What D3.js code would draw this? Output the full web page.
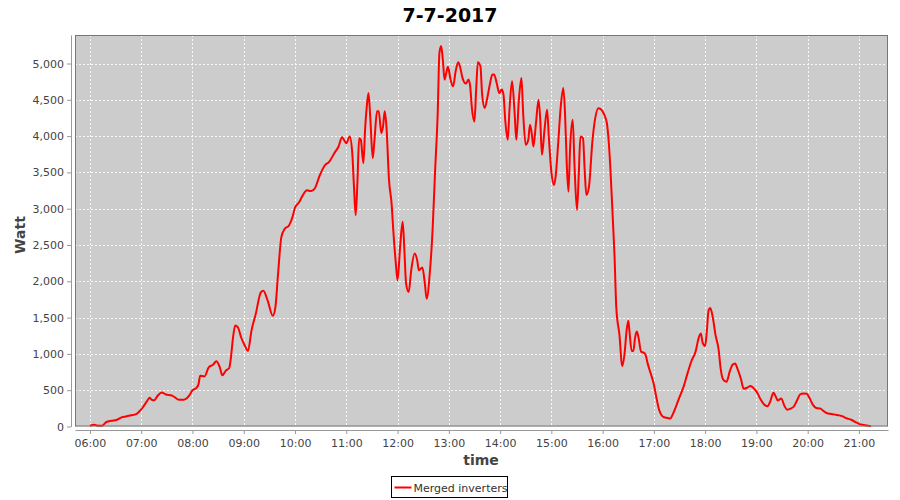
<!DOCTYPE html>
<html>
<head>
<meta charset="utf-8">
<script src="https://cdn.jsdelivr.net/npm/d3@7"></script>
<style>
  body { margin: 0; background: #fff; }
  .axis text { font-family: "DejaVu Sans", sans-serif; font-size: 11px; fill: #444; }
  .axis path, .axis line { stroke: #999; }
  .grid line { stroke: #fff; stroke-dasharray: 2,2; stroke-opacity: 0.85; }
</style>
</head>
<body>
<div class="chart"></div>
<script>
// data
var title = "7-7-2017";
var seriesName = "Merged inverters";
var xaxistext = "time";
var yaxistext = "Watt";

var times = ["06:00","06:05","06:08","06:14","06:19","06:25","06:31","06:37","06:43","06:48","06:54","06:58",
  "07:02","07:06","07:10","07:12","07:15","07:19","07:24","07:29","07:35","07:39","07:44","07:50","07:54","07:57",
  "08:00","08:04","08:07","08:09","08:14","08:19","08:24","08:28","08:32","08:35","08:39","08:43","08:45","08:47","08:50","08:53","08:57",
  "09:01","09:05","09:09","09:14","09:20","09:23","09:28","09:34","09:37","09:40","09:44","09:48","09:53","09:57",
  "10:00","10:05","10:09","10:14","10:19","10:23","10:29","10:35","10:40","10:46","10:51","10:55",
  "11:00","11:04","11:07","11:09","11:11","11:13","11:15","11:17","11:20","11:22","11:24","11:26","11:28","11:31","11:33","11:36","11:38","11:41","11:43","11:45","11:47","11:50","11:53","11:55","11:58",
  "12:00","12:03","12:06","12:08","12:10","12:13","12:16","12:20","12:23","12:25","12:29","12:32","12:34","12:38","12:41","12:44","12:47","12:49","12:51","12:53","12:55","12:57","12:59",
  "13:02","13:05","13:08","13:11","13:13","13:16","13:20","13:23","13:25","13:27","13:30","13:32","13:34","13:37","13:39","13:42","13:45","13:48","13:51","13:53","13:56","13:59",
  "14:02","14:04","14:06","14:09","14:11","14:14","14:17","14:19","14:22","14:25","14:27","14:30","14:33","14:35","14:37","14:39","14:42","14:45","14:47","14:49","14:52","14:55","14:57",
  "15:00","15:03","15:05","15:08","15:11","15:14","15:16","15:18","15:20","15:22","15:25","15:27","15:30","15:32","15:34","15:37","15:39","15:41","15:44","15:48","15:51","15:55","15:58",
  "16:02","16:05","16:07","16:09","16:12","16:14","16:16","16:20","16:22","16:23","16:26","16:28","16:30","16:31","16:34","16:36","16:38","16:40","16:42","16:45","16:48","16:50","16:53","16:56",
  "17:00","17:03","17:06","17:09","17:12","17:16","17:19","17:22","17:26","17:30","17:35","17:39","17:44","17:49","17:52","17:55","17:57",
  "18:00","18:02","18:04","18:06","18:09","18:12","18:16","18:18","18:21","18:25","18:29","18:32","18:35","18:38","18:42","18:45","18:49","18:53","18:57",
  "19:01","19:05","19:09","19:13","19:16","19:20","19:23","19:25","19:29","19:33","19:36","19:40","19:44","19:48","19:51","19:55","19:59",
  "20:02","20:06","20:10","20:15","20:18","20:22","20:28","20:33","20:37","20:41","20:45","20:51","20:56",
  "21:00","21:04","21:09","21:14"];

var watts = [10,25,15,10,60,80,90,125,140,155,170,210,
  265,335,395,370,360,420,470,440,430,405,370,370,395,440,
  500,525,580,700,690,815,850,900,815,705,770,805,950,1180,1390,1370,1226,
  1120,1041,1318,1548,1848,1871,1733,1525,1641,2078,2608,2724,2770,2885,
  3014,3092,3184,3253,3244,3276,3461,3599,3645,3765,3857,3986,
  3903,3995,3765,3304,2912,3350,3972,3949,3627,4088,4410,4594,4272,3696,3949,4341,4341,4041,4134,4341,4134,3396,3074,2705,2244,
  2014,2475,2820,2429,1967,1852,2152,2382,2290,2152,2189,1967,1760,2152,2705,3535,4318,5147,5240,5055,4779,4871,4954,
  4779,4687,4894,5018,4963,4802,4724,4779,4687,4387,4203,4641,5018,4963,4571,4387,4525,4710,4848,4848,4733,4594,
  4641,4571,4226,3949,4364,4756,4318,3949,4502,4802,4318,3880,3949,4157,4041,3857,4180,4502,4226,3742,4088,4364,3995,
  3512,3327,3442,3903,4410,4664,4318,3627,3235,3857,4226,3627,2982,3442,3995,3972,3535,3189,3300,3923,4223,4385,4371,
  4292,4177,3946,3577,2840,2332,1640,1225,902,833,1041,1317,1456,1363,1041,1041,1225,1308,1225,1031,1017,994,856,741,
  579,395,233,155,127,118,109,164,279,404,556,718,902,1041,1202,1280,1156,
  1110,1317,1600,1631,1500,1270,1040,812,650,617,766,850,868,789,650,520,534,557,525,
  464,371,302,279,339,464,404,357,385,279,232,246,279,371,441,455,450,
  395,302,255,246,218,186,172,162,153,139,116,93,60,
  37,23,14,5];

var yTicks = [0,500,1000,1500,2000,2500,3000,3500,4000,4500,5000];

var parseTime = d3.timeParse("%H:%M:%S");
var data = times.map(function(t, i){ return {x: parseTime(t + ":00"), y: watts[i]}; });

// setup
var width = 900, height = 500;
var plot = {left: 75, top: 35, right: 888, bottom: 426.5};

var svg = d3.select(".chart").append("svg")
    .attr("width", width)
    .attr("height", height)
    .style("font-family", "'DejaVu Sans', sans-serif");

var x = d3.scaleTime()
    .domain([parseTime("05:42:30"), parseTime("21:34:00")])
    .range([plot.left, plot.right]);

var y = d3.scaleLinear()
    .domain([0, 5393])
    .range([plot.bottom, plot.top]);

// plot background
svg.append("rect")
    .attr("x", plot.left)
    .attr("y", plot.top)
    .attr("width", plot.right - plot.left)
    .attr("height", plot.bottom - plot.top)
    .attr("fill", "#cccccc");

var hours = x.ticks(d3.timeHour.every(1));

// grid
var grid = svg.append("g").attr("class", "grid");
grid.selectAll(".vg").data(hours).enter().append("line")
    .attr("x1", function(d){ return Math.round(x(d)) + 0.5; })
    .attr("x2", function(d){ return Math.round(x(d)) + 0.5; })
    .attr("y1", plot.top).attr("y2", plot.bottom);
grid.selectAll(".hg").data(yTicks).enter().append("line")
    .attr("x1", plot.left).attr("x2", plot.right)
    .attr("y1", function(d){ return Math.round(y(d)) + 0.5; })
    .attr("y2", function(d){ return Math.round(y(d)) + 0.5; });

// the series
var line = d3.line()
    .x(function(d){ return x(d.x); })
    .y(function(d){ return y(d.y); })
    .curve(d3.curveMonotoneX);

svg.append("path")
    .datum(data)
    .attr("fill", "none")
    .attr("stroke", "#ff0000")
    .attr("stroke-width", 2)
    .attr("stroke-linejoin", "round")
    .attr("d", line);

// plot outline
svg.append("rect")
    .attr("x", plot.left + 0.5)
    .attr("y", plot.top + 0.5)
    .attr("width", plot.right - plot.left - 1)
    .attr("height", plot.bottom - plot.top - 1)
    .attr("fill", "none")
    .attr("stroke", "#777");

// axes
var xAxis = d3.axisBottom(x)
    .tickValues(hours)
    .tickFormat(d3.timeFormat("%H:%M"))
    .tickSize(4)
    .tickSizeOuter(0)
    .tickPadding(5);

var yAxis = d3.axisLeft(y)
    .tickValues(yTicks)
    .tickFormat(d3.format(","))
    .tickSize(4)
    .tickSizeOuter(0)
    .tickPadding(3);

svg.append("g")
    .attr("class", "x axis")
    .attr("transform", "translate(0,430)")
    .call(xAxis);

svg.append("g")
    .attr("class", "y axis")
    .attr("transform", "translate(71,0)")
    .call(yAxis);

// title
svg.append("text")
    .attr("x", 450)
    .attr("y", 22)
    .attr("text-anchor", "middle")
    .style("font-size", "19px")
    .style("font-weight", "bold")
    .attr("fill", "#000")
    .text(title);

// text label for the x axis
svg.append("text")
    .attr("x", 481)
    .attr("y", 465)
    .attr("text-anchor", "middle")
    .style("font-size", "14px")
    .style("font-weight", "bold")
    .attr("fill", "#444")
    .text(xaxistext);

// text label for the y axis
svg.append("text")
    .attr("transform", "translate(25,235) rotate(-90)")
    .attr("text-anchor", "middle")
    .style("font-size", "14px")
    .style("font-weight", "bold")
    .attr("fill", "#444")
    .text(yaxistext);

// legend
var legend = svg.append("g").attr("transform", "translate(391.5,476.5)");
legend.append("rect")
    .attr("width", 116)
    .attr("height", 21)
    .attr("fill", "#fff")
    .attr("stroke", "#000");
legend.append("line")
    .attr("x1", 3).attr("x2", 20)
    .attr("y1", 11).attr("y2", 11)
    .attr("stroke", "#ff0000")
    .attr("stroke-width", 2);
legend.append("text")
    .attr("x", 22)
    .attr("y", 15)
    .style("font-size", "11px")
    .attr("fill", "#333")
    .text(seriesName);
</script>
</body>
</html>
